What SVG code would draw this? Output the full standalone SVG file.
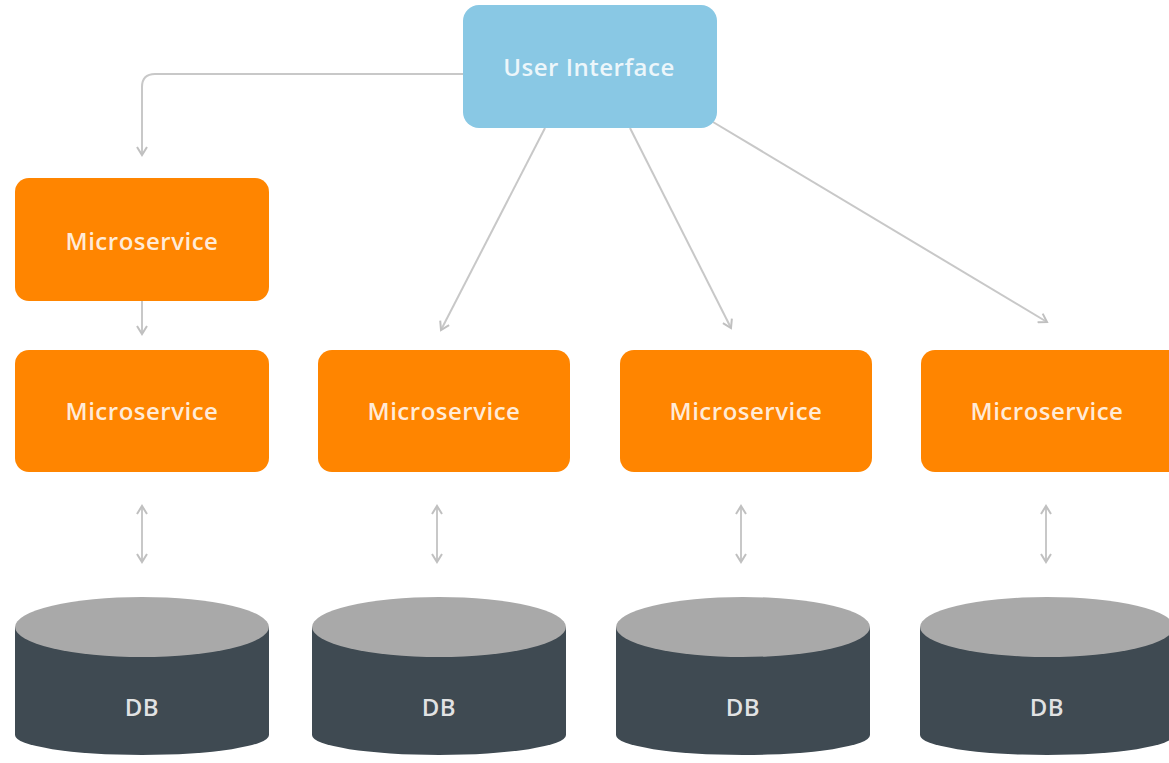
<svg xmlns="http://www.w3.org/2000/svg" width="1169" height="763" viewBox="0 0 1169 763">
<style>
.ui{fill:#89C8E4}
.ms{fill:#FF8500}
.lbl{font-family:"Open Sans","Liberation Sans",sans-serif;font-size:24px;font-weight:600;letter-spacing:0.5px;fill:#FFFFFF;fill-opacity:0.85;text-anchor:middle;dominant-baseline:central}
.dbside{fill:#3F4A52}
.dbtop{fill:#A9A9A9}
.con{fill:none;stroke:#C8C8C8;stroke-width:2}
</style>
<defs>
<marker id="ah" viewBox="0 0 12 12" refX="10" refY="6" markerWidth="12" markerHeight="12" markerUnits="userSpaceOnUse" orient="auto-start-reverse">
<path d="M2,1 L10,6 L2,11" fill="none" stroke="#C0C0C0" stroke-width="2"/>
</marker>
</defs>
<rect width="1169" height="763" fill="#FFFFFF"/>
<g id="connectors">
<path class="con" d="M463,74 H155 Q142,74 142,87 V155" marker-end="url(#ah)"/>
<path class="con" d="M142,301 V334" marker-end="url(#ah)"/>
<path class="con" d="M545,128 L441,330" marker-end="url(#ah)"/>
<path class="con" d="M630,128 L731,328" marker-end="url(#ah)"/>
<path class="con" d="M713,122 L1047,322" marker-end="url(#ah)"/>
<path class="con" d="M142,506 V562" marker-start="url(#ah)" marker-end="url(#ah)"/>
<path class="con" d="M437,506 V562" marker-start="url(#ah)" marker-end="url(#ah)"/>
<path class="con" d="M741,506 V562" marker-start="url(#ah)" marker-end="url(#ah)"/>
<path class="con" d="M1046,506 V562" marker-start="url(#ah)" marker-end="url(#ah)"/>
</g>
<g id="ui">
<rect class="ui" x="463" y="5" width="254" height="123" rx="16"/>
<text class="lbl" x="589" y="66">User Interface</text>
</g>
<g id="ms-top">
<rect class="ms" x="15" y="178" width="254" height="123" rx="14"/>
<text class="lbl" x="142" y="240">Microservice</text>
</g>
<g id="ms1">
<rect class="ms" x="15" y="350" width="254" height="122" rx="14"/>
<text class="lbl" x="142" y="410">Microservice</text>
</g>
<g id="ms2">
<rect class="ms" x="318" y="350" width="252" height="122" rx="14"/>
<text class="lbl" x="444" y="410">Microservice</text>
</g>
<g id="ms3">
<rect class="ms" x="620" y="350" width="252" height="122" rx="14"/>
<text class="lbl" x="746" y="410">Microservice</text>
</g>
<g id="ms4">
<rect class="ms" x="921" y="350" width="262" height="122" rx="14"/>
<text class="lbl" x="1047" y="410">Microservice</text>
</g>
<g id="db1">
<path class="dbside" d="M15,627 V735 A127,20 0 0 0 269,735 V627 Z"/>
<ellipse class="dbtop" cx="142" cy="627" rx="127" ry="30"/>
<text class="lbl" x="142" y="706">DB</text>
</g>
<g id="db2">
<path class="dbside" d="M312,627 V735 A127,20 0 0 0 566,735 V627 Z"/>
<ellipse class="dbtop" cx="439" cy="627" rx="127" ry="30"/>
<text class="lbl" x="439" y="706">DB</text>
</g>
<g id="db3">
<path class="dbside" d="M616,627 V735 A127,20 0 0 0 870,735 V627 Z"/>
<ellipse class="dbtop" cx="743" cy="627" rx="127" ry="30"/>
<text class="lbl" x="743" y="706">DB</text>
</g>
<g id="db4">
<path class="dbside" d="M920,627 V735 A127,20 0 0 0 1174,735 V627 Z"/>
<ellipse class="dbtop" cx="1047" cy="627" rx="127" ry="30"/>
<text class="lbl" x="1047" y="706">DB</text>
</g>
</svg>
